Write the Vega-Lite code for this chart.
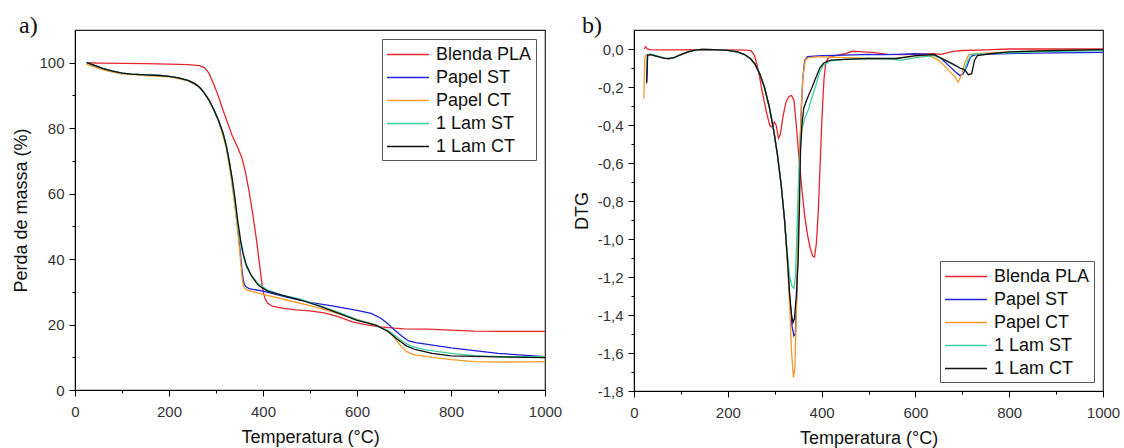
{
  "$schema": "https://vega.github.io/schema/vega-lite/v6.json",
  "padding": {"left": 12, "top": 13, "right": 0, "bottom": 0},
  "config": {
    "font": "Liberation Sans",
    "view": {"stroke": "#222", "strokeWidth": 1.2},
    "axis": {"domainColor": "#000", "tickColor": "#000", "labelColor": "#333", "titleColor": "#111", "labelFontSize": 15, "titleFontSize": 18, "titleFontWeight": "normal", "grid": false, "labelFont": "Liberation Sans", "titleFont": "Liberation Sans", "labelFlush": false, "labelOverlap": false, "labelBound": false},
    "title": {"font": "Liberation Serif", "fontSize": 24, "fontWeight": "normal", "anchor": "start", "frame": "group", "color": "#111"},
    "legend": {"title": null, "symbolType": "M-1,0H3", "symbolSize": 441, "symbolStrokeWidth": 1.5, "labelFontSize": 18, "labelFont": "Liberation Sans", "labelColor": "#111", "strokeColor": "#555", "fillColor": "white", "padding": 4, "rowPadding": 2, "labelOffset": 27, "offset": 9},
    "concat": {"spacing": 9}
  },
  "datasets": {
    "tga": [
      {"s":"Blenda PLA","x":25,"y":100},{"s":"Blenda PLA","x":50,"y":99.9},{"s":"Blenda PLA","x":100,"y":99.8},{"s":"Blenda PLA","x":150,"y":99.7},{"s":"Blenda PLA","x":200,"y":99.6},{"s":"Blenda PLA","x":240,"y":99.4},{"s":"Blenda PLA","x":265,"y":99.1},{"s":"Blenda PLA","x":275,"y":98.5},{"s":"Blenda PLA","x":285,"y":96.8},{"s":"Blenda PLA","x":295,"y":93.5},{"s":"Blenda PLA","x":305,"y":89.8},{"s":"Blenda PLA","x":315,"y":85.5},{"s":"Blenda PLA","x":325,"y":81.5},{"s":"Blenda PLA","x":335,"y":77.5},{"s":"Blenda PLA","x":345,"y":74.5},{"s":"Blenda PLA","x":355,"y":71},{"s":"Blenda PLA","x":362,"y":67},{"s":"Blenda PLA","x":370,"y":61},{"s":"Blenda PLA","x":378,"y":54},{"s":"Blenda PLA","x":386,"y":46},{"s":"Blenda PLA","x":393,"y":38},{"s":"Blenda PLA","x":399,"y":31},{"s":"Blenda PLA","x":404,"y":28},{"s":"Blenda PLA","x":410,"y":26.5},{"s":"Blenda PLA","x":420,"y":25.6},{"s":"Blenda PLA","x":440,"y":25},{"s":"Blenda PLA","x":470,"y":24.5},{"s":"Blenda PLA","x":500,"y":24.2},{"s":"Blenda PLA","x":530,"y":23.6},{"s":"Blenda PLA","x":560,"y":22.4},{"s":"Blenda PLA","x":590,"y":20.8},{"s":"Blenda PLA","x":620,"y":19.9},{"s":"Blenda PLA","x":650,"y":19.3},{"s":"Blenda PLA","x":680,"y":18.9},{"s":"Blenda PLA","x":700,"y":18.7},{"s":"Blenda PLA","x":750,"y":18.6},{"s":"Blenda PLA","x":800,"y":18.3},{"s":"Blenda PLA","x":850,"y":18},{"s":"Blenda PLA","x":900,"y":17.9},{"s":"Blenda PLA","x":1000,"y":17.9},

      {"s":"Papel ST","x":25,"y":100},{"s":"Papel ST","x":40,"y":99.3},{"s":"Papel ST","x":60,"y":98.2},{"s":"Papel ST","x":80,"y":97.4},{"s":"Papel ST","x":100,"y":96.8},{"s":"Papel ST","x":120,"y":96.5},{"s":"Papel ST","x":150,"y":96.3},{"s":"Papel ST","x":180,"y":96.1},{"s":"Papel ST","x":200,"y":95.8},{"s":"Papel ST","x":220,"y":95.4},{"s":"Papel ST","x":240,"y":94.6},{"s":"Papel ST","x":255,"y":93.6},{"s":"Papel ST","x":265,"y":92.5},{"s":"Papel ST","x":275,"y":90.8},{"s":"Papel ST","x":285,"y":88.6},{"s":"Papel ST","x":295,"y":85.8},{"s":"Papel ST","x":305,"y":82.5},{"s":"Papel ST","x":315,"y":78.5},{"s":"Papel ST","x":322,"y":74.5},{"s":"Papel ST","x":328,"y":70},{"s":"Papel ST","x":334,"y":64},{"s":"Papel ST","x":340,"y":57.5},{"s":"Papel ST","x":346,"y":50},{"s":"Papel ST","x":351,"y":43},{"s":"Papel ST","x":355,"y":37},{"s":"Papel ST","x":358,"y":33.5},{"s":"Papel ST","x":362,"y":31.8},{"s":"Papel ST","x":370,"y":31},{"s":"Papel ST","x":400,"y":30.2},{"s":"Papel ST","x":450,"y":28.4},{"s":"Papel ST","x":500,"y":26.8},{"s":"Papel ST","x":550,"y":25.6},{"s":"Papel ST","x":600,"y":24.3},{"s":"Papel ST","x":630,"y":23.4},{"s":"Papel ST","x":650,"y":22},{"s":"Papel ST","x":665,"y":20.3},{"s":"Papel ST","x":680,"y":18.3},{"s":"Papel ST","x":695,"y":16.5},{"s":"Papel ST","x":710,"y":15},{"s":"Papel ST","x":725,"y":14.5},{"s":"Papel ST","x":800,"y":12.9},{"s":"Papel ST","x":900,"y":11.2},{"s":"Papel ST","x":1000,"y":10.2},

      {"s":"Papel CT","x":25,"y":99.5},{"s":"Papel CT","x":40,"y":98.8},{"s":"Papel CT","x":60,"y":97.8},{"s":"Papel CT","x":80,"y":97.1},{"s":"Papel CT","x":100,"y":96.6},{"s":"Papel CT","x":150,"y":96.1},{"s":"Papel CT","x":200,"y":95.7},{"s":"Papel CT","x":240,"y":94.5},{"s":"Papel CT","x":265,"y":92.5},{"s":"Papel CT","x":285,"y":88.8},{"s":"Papel CT","x":305,"y":82.5},{"s":"Papel CT","x":322,"y":74},{"s":"Papel CT","x":334,"y":63},{"s":"Papel CT","x":342,"y":54},{"s":"Papel CT","x":348,"y":46},{"s":"Papel CT","x":352,"y":40},{"s":"Papel CT","x":355,"y":35},{"s":"Papel CT","x":358,"y":31.8},{"s":"Papel CT","x":365,"y":30.6},{"s":"Papel CT","x":400,"y":29.2},{"s":"Papel CT","x":450,"y":27.5},{"s":"Papel CT","x":500,"y":25.8},{"s":"Papel CT","x":550,"y":23.8},{"s":"Papel CT","x":600,"y":21.6},{"s":"Papel CT","x":640,"y":19.8},{"s":"Papel CT","x":660,"y":18.5},{"s":"Papel CT","x":675,"y":16.8},{"s":"Papel CT","x":690,"y":14},{"s":"Papel CT","x":705,"y":11.8},{"s":"Papel CT","x":720,"y":10.8},{"s":"Papel CT","x":760,"y":10},{"s":"Papel CT","x":800,"y":9.3},{"s":"Papel CT","x":850,"y":8.7},{"s":"Papel CT","x":900,"y":8.5},{"s":"Papel CT","x":1000,"y":8.7},

      {"s":"1 Lam ST","x":25,"y":100},{"s":"1 Lam ST","x":40,"y":99.3},{"s":"1 Lam ST","x":60,"y":98.2},{"s":"1 Lam ST","x":80,"y":97.4},{"s":"1 Lam ST","x":100,"y":96.8},{"s":"1 Lam ST","x":120,"y":96.5},{"s":"1 Lam ST","x":150,"y":96.3},{"s":"1 Lam ST","x":180,"y":96.1},{"s":"1 Lam ST","x":200,"y":95.8},{"s":"1 Lam ST","x":220,"y":95.4},{"s":"1 Lam ST","x":240,"y":94.6},{"s":"1 Lam ST","x":255,"y":93.6},{"s":"1 Lam ST","x":265,"y":92.5},{"s":"1 Lam ST","x":275,"y":90.8},{"s":"1 Lam ST","x":285,"y":88.6},{"s":"1 Lam ST","x":295,"y":85.8},{"s":"1 Lam ST","x":305,"y":82.5},{"s":"1 Lam ST","x":315,"y":78.5},{"s":"1 Lam ST","x":322,"y":74.5},{"s":"1 Lam ST","x":328,"y":70},{"s":"1 Lam ST","x":334,"y":64.5},{"s":"1 Lam ST","x":340,"y":58},{"s":"1 Lam ST","x":346,"y":51},{"s":"1 Lam ST","x":352,"y":45},{"s":"1 Lam ST","x":358,"y":41},{"s":"1 Lam ST","x":365,"y":37.5},{"s":"1 Lam ST","x":375,"y":35},{"s":"1 Lam ST","x":390,"y":32.5},{"s":"1 Lam ST","x":410,"y":30.5},{"s":"1 Lam ST","x":440,"y":29},{"s":"1 Lam ST","x":480,"y":27.8},{"s":"1 Lam ST","x":520,"y":25.8},{"s":"1 Lam ST","x":560,"y":23.8},{"s":"1 Lam ST","x":600,"y":21.5},{"s":"1 Lam ST","x":640,"y":19.8},{"s":"1 Lam ST","x":665,"y":18.2},{"s":"1 Lam ST","x":685,"y":16.2},{"s":"1 Lam ST","x":700,"y":14.6},{"s":"1 Lam ST","x":715,"y":13.4},{"s":"1 Lam ST","x":740,"y":12.4},{"s":"1 Lam ST","x":800,"y":11.2},{"s":"1 Lam ST","x":850,"y":10.5},{"s":"1 Lam ST","x":900,"y":10.2},{"s":"1 Lam ST","x":1000,"y":10.2},

      {"s":"1 Lam CT","x":25,"y":100},{"s":"1 Lam CT","x":40,"y":99.3},{"s":"1 Lam CT","x":60,"y":98.2},{"s":"1 Lam CT","x":80,"y":97.4},{"s":"1 Lam CT","x":100,"y":96.8},{"s":"1 Lam CT","x":120,"y":96.5},{"s":"1 Lam CT","x":150,"y":96.3},{"s":"1 Lam CT","x":180,"y":96.1},{"s":"1 Lam CT","x":200,"y":95.8},{"s":"1 Lam CT","x":220,"y":95.4},{"s":"1 Lam CT","x":240,"y":94.6},{"s":"1 Lam CT","x":255,"y":93.6},{"s":"1 Lam CT","x":265,"y":92.5},{"s":"1 Lam CT","x":275,"y":90.8},{"s":"1 Lam CT","x":285,"y":88.6},{"s":"1 Lam CT","x":295,"y":85.8},{"s":"1 Lam CT","x":305,"y":82.5},{"s":"1 Lam CT","x":315,"y":78.5},{"s":"1 Lam CT","x":322,"y":74.5},{"s":"1 Lam CT","x":328,"y":70},{"s":"1 Lam CT","x":334,"y":65},{"s":"1 Lam CT","x":340,"y":59},{"s":"1 Lam CT","x":346,"y":52},{"s":"1 Lam CT","x":352,"y":46},{"s":"1 Lam CT","x":358,"y":41.5},{"s":"1 Lam CT","x":365,"y":38},{"s":"1 Lam CT","x":375,"y":35},{"s":"1 Lam CT","x":390,"y":32},{"s":"1 Lam CT","x":410,"y":30.2},{"s":"1 Lam CT","x":440,"y":29},{"s":"1 Lam CT","x":480,"y":27.5},{"s":"1 Lam CT","x":520,"y":25.6},{"s":"1 Lam CT","x":560,"y":23.5},{"s":"1 Lam CT","x":600,"y":21.3},{"s":"1 Lam CT","x":640,"y":19.8},{"s":"1 Lam CT","x":665,"y":18},{"s":"1 Lam CT","x":685,"y":15.6},{"s":"1 Lam CT","x":705,"y":13.5},{"s":"1 Lam CT","x":725,"y":12.3},{"s":"1 Lam CT","x":760,"y":11.2},{"s":"1 Lam CT","x":800,"y":10.4},{"s":"1 Lam CT","x":900,"y":10.1},{"s":"1 Lam CT","x":1000,"y":9.9}
    ],
    "dtg": [
      {"s":"Blenda PLA","x":22,"y":0},{"s":"Blenda PLA","x":25,"y":0.012},{"s":"Blenda PLA","x":28,"y":0},{"s":"Blenda PLA","x":35,"y":-0.003},{"s":"Blenda PLA","x":60,"y":-0.005},{"s":"Blenda PLA","x":100,"y":-0.005},{"s":"Blenda PLA","x":150,"y":-0.004},{"s":"Blenda PLA","x":200,"y":-0.005},{"s":"Blenda PLA","x":240,"y":-0.006},{"s":"Blenda PLA","x":250,"y":-0.01},{"s":"Blenda PLA","x":257,"y":-0.035},{"s":"Blenda PLA","x":263,"y":-0.09},{"s":"Blenda PLA","x":268,"y":-0.15},{"s":"Blenda PLA","x":273,"y":-0.22},{"s":"Blenda PLA","x":278,"y":-0.28},{"s":"Blenda PLA","x":284,"y":-0.35},{"s":"Blenda PLA","x":290,"y":-0.405},{"s":"Blenda PLA","x":294,"y":-0.41},{"s":"Blenda PLA","x":299,"y":-0.385},{"s":"Blenda PLA","x":303,"y":-0.4},{"s":"Blenda PLA","x":308,"y":-0.47},{"s":"Blenda PLA","x":312,"y":-0.45},{"s":"Blenda PLA","x":318,"y":-0.35},{"s":"Blenda PLA","x":324,"y":-0.28},{"s":"Blenda PLA","x":330,"y":-0.25},{"s":"Blenda PLA","x":336,"y":-0.245},{"s":"Blenda PLA","x":341,"y":-0.27},{"s":"Blenda PLA","x":346,"y":-0.4},{"s":"Blenda PLA","x":352,"y":-0.58},{"s":"Blenda PLA","x":358,"y":-0.74},{"s":"Blenda PLA","x":364,"y":-0.88},{"s":"Blenda PLA","x":370,"y":-0.98},{"s":"Blenda PLA","x":376,"y":-1.05},{"s":"Blenda PLA","x":381,"y":-1.09},{"s":"Blenda PLA","x":385,"y":-1.095},{"s":"Blenda PLA","x":389,"y":-1.02},{"s":"Blenda PLA","x":393,"y":-0.85},{"s":"Blenda PLA","x":397,"y":-0.6},{"s":"Blenda PLA","x":401,"y":-0.35},{"s":"Blenda PLA","x":405,"y":-0.16},{"s":"Blenda PLA","x":409,"y":-0.07},{"s":"Blenda PLA","x":415,"y":-0.045},{"s":"Blenda PLA","x":430,"y":-0.035},{"s":"Blenda PLA","x":450,"y":-0.025},{"s":"Blenda PLA","x":465,"y":-0.012},{"s":"Blenda PLA","x":490,"y":-0.015},{"s":"Blenda PLA","x":510,"y":-0.018},{"s":"Blenda PLA","x":540,"y":-0.028},{"s":"Blenda PLA","x":570,"y":-0.03},{"s":"Blenda PLA","x":600,"y":-0.028},{"s":"Blenda PLA","x":640,"y":-0.025},{"s":"Blenda PLA","x":655,"y":-0.028},{"s":"Blenda PLA","x":665,"y":-0.022},{"s":"Blenda PLA","x":680,"y":-0.012},{"s":"Blenda PLA","x":700,"y":-0.008},{"s":"Blenda PLA","x":750,"y":-0.005},{"s":"Blenda PLA","x":800,"y":0},{"s":"Blenda PLA","x":900,"y":0},{"s":"Blenda PLA","x":1000,"y":0},

      {"s":"Papel ST","x":27,"y":-0.17},{"s":"Papel ST","x":29,"y":-0.03},{"s":"Papel ST","x":35,"y":-0.028},{"s":"Papel ST","x":45,"y":-0.035},{"s":"Papel ST","x":55,"y":-0.042},{"s":"Papel ST","x":65,"y":-0.048},{"s":"Papel ST","x":75,"y":-0.05},{"s":"Papel ST","x":85,"y":-0.045},{"s":"Papel ST","x":100,"y":-0.03},{"s":"Papel ST","x":115,"y":-0.015},{"s":"Papel ST","x":130,"y":-0.006},{"s":"Papel ST","x":145,"y":-0.002},{"s":"Papel ST","x":170,"y":-0.003},{"s":"Papel ST","x":200,"y":-0.007},{"s":"Papel ST","x":220,"y":-0.015},{"s":"Papel ST","x":235,"y":-0.028},{"s":"Papel ST","x":248,"y":-0.05},{"s":"Papel ST","x":258,"y":-0.08},{"s":"Papel ST","x":268,"y":-0.13},{"s":"Papel ST","x":278,"y":-0.2},{"s":"Papel ST","x":288,"y":-0.3},{"s":"Papel ST","x":298,"y":-0.43},{"s":"Papel ST","x":306,"y":-0.56},{"s":"Papel ST","x":314,"y":-0.72},{"s":"Papel ST","x":321,"y":-0.9},{"s":"Papel ST","x":327,"y":-1.1},{"s":"Papel ST","x":332,"y":-1.3},{"s":"Papel ST","x":337,"y":-1.46},{"s":"Papel ST","x":341,"y":-1.51},{"s":"Papel ST","x":344,"y":-1.5},{"s":"Papel ST","x":347,"y":-1.3},{"s":"Papel ST","x":350,"y":-1.0},{"s":"Papel ST","x":353,"y":-0.6},{"s":"Papel ST","x":357,"y":-0.3},{"s":"Papel ST","x":360,"y":-0.15},{"s":"Papel ST","x":364,"y":-0.06},{"s":"Papel ST","x":370,"y":-0.04},{"s":"Papel ST","x":400,"y":-0.035},{"s":"Papel ST","x":450,"y":-0.032},{"s":"Papel ST","x":500,"y":-0.028},{"s":"Papel ST","x":530,"y":-0.03},{"s":"Papel ST","x":560,"y":-0.028},{"s":"Papel ST","x":600,"y":-0.025},{"s":"Papel ST","x":640,"y":-0.03},{"s":"Papel ST","x":655,"y":-0.05},{"s":"Papel ST","x":670,"y":-0.085},{"s":"Papel ST","x":685,"y":-0.12},{"s":"Papel ST","x":695,"y":-0.14},{"s":"Papel ST","x":702,"y":-0.13},{"s":"Papel ST","x":710,"y":-0.09},{"s":"Papel ST","x":718,"y":-0.04},{"s":"Papel ST","x":730,"y":-0.028},{"s":"Papel ST","x":800,"y":-0.024},{"s":"Papel ST","x":900,"y":-0.02},{"s":"Papel ST","x":1000,"y":-0.018},

      {"s":"Papel CT","x":21,"y":-0.26},{"s":"Papel CT","x":23,"y":-0.05},{"s":"Papel CT","x":26,"y":-0.03},{"s":"Papel CT","x":35,"y":-0.03},{"s":"Papel CT","x":45,"y":-0.036},{"s":"Papel CT","x":55,"y":-0.043},{"s":"Papel CT","x":65,"y":-0.049},{"s":"Papel CT","x":75,"y":-0.05},{"s":"Papel CT","x":85,"y":-0.045},{"s":"Papel CT","x":100,"y":-0.03},{"s":"Papel CT","x":115,"y":-0.015},{"s":"Papel CT","x":130,"y":-0.006},{"s":"Papel CT","x":145,"y":-0.002},{"s":"Papel CT","x":170,"y":-0.003},{"s":"Papel CT","x":200,"y":-0.007},{"s":"Papel CT","x":220,"y":-0.015},{"s":"Papel CT","x":235,"y":-0.028},{"s":"Papel CT","x":248,"y":-0.05},{"s":"Papel CT","x":258,"y":-0.08},{"s":"Papel CT","x":268,"y":-0.13},{"s":"Papel CT","x":278,"y":-0.2},{"s":"Papel CT","x":288,"y":-0.3},{"s":"Papel CT","x":298,"y":-0.43},{"s":"Papel CT","x":306,"y":-0.56},{"s":"Papel CT","x":314,"y":-0.72},{"s":"Papel CT","x":321,"y":-0.9},{"s":"Papel CT","x":327,"y":-1.12},{"s":"Papel CT","x":332,"y":-1.35},{"s":"Papel CT","x":336,"y":-1.6},{"s":"Papel CT","x":340,"y":-1.73},{"s":"Papel CT","x":343,"y":-1.68},{"s":"Papel CT","x":347,"y":-1.3},{"s":"Papel CT","x":350,"y":-0.9},{"s":"Papel CT","x":353,"y":-0.55},{"s":"Papel CT","x":356,"y":-0.35},{"s":"Papel CT","x":360,"y":-0.15},{"s":"Papel CT","x":365,"y":-0.06},{"s":"Papel CT","x":372,"y":-0.045},{"s":"Papel CT","x":400,"y":-0.04},{"s":"Papel CT","x":450,"y":-0.045},{"s":"Papel CT","x":500,"y":-0.05},{"s":"Papel CT","x":550,"y":-0.052},{"s":"Papel CT","x":600,"y":-0.038},{"s":"Papel CT","x":630,"y":-0.035},{"s":"Papel CT","x":650,"y":-0.06},{"s":"Papel CT","x":670,"y":-0.11},{"s":"Papel CT","x":685,"y":-0.15},{"s":"Papel CT","x":691,"y":-0.175},{"s":"Papel CT","x":698,"y":-0.14},{"s":"Papel CT","x":706,"y":-0.07},{"s":"Papel CT","x":714,"y":-0.03},{"s":"Papel CT","x":730,"y":-0.025},{"s":"Papel CT","x":800,"y":-0.015},{"s":"Papel CT","x":900,"y":-0.008},{"s":"Papel CT","x":1000,"y":-0.005},

      {"s":"1 Lam ST","x":27,"y":-0.1},{"s":"1 Lam ST","x":29,"y":-0.03},{"s":"1 Lam ST","x":35,"y":-0.026},{"s":"1 Lam ST","x":45,"y":-0.034},{"s":"1 Lam ST","x":55,"y":-0.042},{"s":"1 Lam ST","x":65,"y":-0.048},{"s":"1 Lam ST","x":75,"y":-0.05},{"s":"1 Lam ST","x":85,"y":-0.045},{"s":"1 Lam ST","x":100,"y":-0.03},{"s":"1 Lam ST","x":115,"y":-0.015},{"s":"1 Lam ST","x":130,"y":-0.006},{"s":"1 Lam ST","x":145,"y":-0.002},{"s":"1 Lam ST","x":170,"y":-0.003},{"s":"1 Lam ST","x":200,"y":-0.007},{"s":"1 Lam ST","x":220,"y":-0.015},{"s":"1 Lam ST","x":235,"y":-0.028},{"s":"1 Lam ST","x":248,"y":-0.05},{"s":"1 Lam ST","x":258,"y":-0.08},{"s":"1 Lam ST","x":268,"y":-0.13},{"s":"1 Lam ST","x":278,"y":-0.2},{"s":"1 Lam ST","x":288,"y":-0.3},{"s":"1 Lam ST","x":298,"y":-0.43},{"s":"1 Lam ST","x":306,"y":-0.56},{"s":"1 Lam ST","x":314,"y":-0.72},{"s":"1 Lam ST","x":321,"y":-0.9},{"s":"1 Lam ST","x":327,"y":-1.08},{"s":"1 Lam ST","x":332,"y":-1.2},{"s":"1 Lam ST","x":337,"y":-1.25},{"s":"1 Lam ST","x":341,"y":-1.26},{"s":"1 Lam ST","x":344,"y":-1.2},{"s":"1 Lam ST","x":347,"y":-1.0},{"s":"1 Lam ST","x":350,"y":-0.75},{"s":"1 Lam ST","x":354,"y":-0.55},{"s":"1 Lam ST","x":358,"y":-0.42},{"s":"1 Lam ST","x":365,"y":-0.36},{"s":"1 Lam ST","x":373,"y":-0.31},{"s":"1 Lam ST","x":380,"y":-0.25},{"s":"1 Lam ST","x":388,"y":-0.19},{"s":"1 Lam ST","x":396,"y":-0.12},{"s":"1 Lam ST","x":404,"y":-0.085},{"s":"1 Lam ST","x":419,"y":-0.063},{"s":"1 Lam ST","x":450,"y":-0.055},{"s":"1 Lam ST","x":500,"y":-0.05},{"s":"1 Lam ST","x":540,"y":-0.052},{"s":"1 Lam ST","x":570,"y":-0.06},{"s":"1 Lam ST","x":600,"y":-0.045},{"s":"1 Lam ST","x":640,"y":-0.035},{"s":"1 Lam ST","x":660,"y":-0.055},{"s":"1 Lam ST","x":680,"y":-0.08},{"s":"1 Lam ST","x":695,"y":-0.1},{"s":"1 Lam ST","x":705,"y":-0.11},{"s":"1 Lam ST","x":712,"y":-0.06},{"s":"1 Lam ST","x":720,"y":-0.028},{"s":"1 Lam ST","x":800,"y":-0.02},{"s":"1 Lam ST","x":900,"y":-0.012},{"s":"1 Lam ST","x":1000,"y":-0.008},

      {"s":"1 Lam CT","x":27,"y":-0.18},{"s":"1 Lam CT","x":29,"y":-0.032},{"s":"1 Lam CT","x":35,"y":-0.03},{"s":"1 Lam CT","x":45,"y":-0.036},{"s":"1 Lam CT","x":55,"y":-0.043},{"s":"1 Lam CT","x":65,"y":-0.049},{"s":"1 Lam CT","x":75,"y":-0.051},{"s":"1 Lam CT","x":85,"y":-0.046},{"s":"1 Lam CT","x":100,"y":-0.03},{"s":"1 Lam CT","x":115,"y":-0.015},{"s":"1 Lam CT","x":130,"y":-0.006},{"s":"1 Lam CT","x":145,"y":-0.002},{"s":"1 Lam CT","x":170,"y":-0.003},{"s":"1 Lam CT","x":200,"y":-0.007},{"s":"1 Lam CT","x":220,"y":-0.015},{"s":"1 Lam CT","x":235,"y":-0.028},{"s":"1 Lam CT","x":248,"y":-0.05},{"s":"1 Lam CT","x":258,"y":-0.08},{"s":"1 Lam CT","x":268,"y":-0.13},{"s":"1 Lam CT","x":278,"y":-0.2},{"s":"1 Lam CT","x":288,"y":-0.3},{"s":"1 Lam CT","x":298,"y":-0.43},{"s":"1 Lam CT","x":306,"y":-0.56},{"s":"1 Lam CT","x":314,"y":-0.72},{"s":"1 Lam CT","x":321,"y":-0.9},{"s":"1 Lam CT","x":327,"y":-1.1},{"s":"1 Lam CT","x":332,"y":-1.3},{"s":"1 Lam CT","x":336,"y":-1.4},{"s":"1 Lam CT","x":339,"y":-1.44},{"s":"1 Lam CT","x":342,"y":-1.42},{"s":"1 Lam CT","x":346,"y":-1.3},{"s":"1 Lam CT","x":350,"y":-1.12},{"s":"1 Lam CT","x":353,"y":-0.8},{"s":"1 Lam CT","x":355,"y":-0.54},{"s":"1 Lam CT","x":358,"y":-0.4},{"s":"1 Lam CT","x":362,"y":-0.31},{"s":"1 Lam CT","x":368,"y":-0.27},{"s":"1 Lam CT","x":373,"y":-0.24},{"s":"1 Lam CT","x":380,"y":-0.2},{"s":"1 Lam CT","x":388,"y":-0.15},{"s":"1 Lam CT","x":396,"y":-0.1},{"s":"1 Lam CT","x":404,"y":-0.075},{"s":"1 Lam CT","x":419,"y":-0.058},{"s":"1 Lam CT","x":450,"y":-0.055},{"s":"1 Lam CT","x":500,"y":-0.05},{"s":"1 Lam CT","x":560,"y":-0.05},{"s":"1 Lam CT","x":600,"y":-0.035},{"s":"1 Lam CT","x":640,"y":-0.03},{"s":"1 Lam CT","x":660,"y":-0.055},{"s":"1 Lam CT","x":680,"y":-0.08},{"s":"1 Lam CT","x":695,"y":-0.1},{"s":"1 Lam CT","x":705,"y":-0.11},{"s":"1 Lam CT","x":713,"y":-0.135},{"s":"1 Lam CT","x":720,"y":-0.13},{"s":"1 Lam CT","x":726,"y":-0.06},{"s":"1 Lam CT","x":732,"y":-0.035},{"s":"1 Lam CT","x":760,"y":-0.025},{"s":"1 Lam CT","x":800,"y":-0.015},{"s":"1 Lam CT","x":900,"y":-0.008},{"s":"1 Lam CT","x":1000,"y":-0.003}
    ]
  },
  "hconcat": [
    {
      "width": 470,
      "height": 360,
      "title": {"text": "a)", "dx": -56, "baseline": "alphabetic", "offset": -27},
      "data": {"name": "tga"},
      "mark": {"type": "line", "strokeWidth": 1.3, "clip": true},
      "encoding": {
        "x": {"field": "x", "type": "quantitative", "title": "Temperatura (°C)",
              "scale": {"domain": [0, 1000], "nice": false},
              "axis": {"values": [0,100,200,300,400,500,600,700,800,900,1000], "labelExpr": "datum.value % 200 === 0 ? '' + datum.value : ''", "tickSize": {"condition": {"test": "datum.value % 200 === 0", "value": 6}, "value": 3}, "labelPadding": 8, "titlePadding": 9}},
        "y": {"field": "y", "type": "quantitative", "title": "Perda de massa (%)",
              "scale": {"domain": [0, 110], "nice": false},
              "axis": {"values": [0,10,20,30,40,50,60,70,80,90,100], "labelExpr": "datum.value % 20 === 0 ? '' + datum.value : ''", "tickSize": {"condition": {"test": "datum.value % 20 === 0", "value": 6}, "value": 3}, "labelPadding": 5, "titlePadding": 8}},
        "color": {"field": "s", "type": "nominal",
                  "scale": {"domain": ["Blenda PLA", "Papel ST", "Papel CT", "1 Lam ST", "1 Lam CT"], "range": ["#e6262e", "#2020d8", "#f59a2a", "#3ad1a3", "#111111"]},
                  "legend": {"orient": "top-right"}}
      }
    },
    {
      "width": 469,
      "height": 361,
      "title": {"text": "b)", "dx": -52, "baseline": "alphabetic", "offset": -27},
      "data": {"name": "dtg"},
      "mark": {"type": "line", "strokeWidth": 1.3, "clip": true},
      "encoding": {
        "x": {"field": "x", "type": "quantitative", "title": "Temperatura (°C)",
              "scale": {"domain": [0, 1000], "nice": false},
              "axis": {"values": [0,100,200,300,400,500,600,700,800,900,1000], "labelExpr": "datum.value % 200 === 0 ? '' + datum.value : ''", "tickSize": {"condition": {"test": "datum.value % 200 === 0", "value": 6}, "value": 3}, "labelPadding": 8, "titlePadding": 9}},
        "y": {"field": "y", "type": "quantitative", "title": "DTG",
              "scale": {"domain": [-1.8, 0.1], "nice": false, "zero": false},
              "axis": {"values": [-1.8,-1.7,-1.6,-1.5,-1.4,-1.3,-1.2,-1.1,-1.0,-0.9,-0.8,-0.7,-0.6,-0.5,-0.4,-0.3,-0.2,-0.1,0], "labelExpr": "abs(round(datum.value*10)) % 2 === 0 ? replace(replace(format(datum.value, '.1f'), '.', ','), '\u2212', '-') : ''", "tickSize": {"condition": {"test": "abs(round(datum.value*10)) % 2 === 0", "value": 6}, "value": 3}, "labelPadding": 5, "titlePadding": 6}},
        "color": {"field": "s", "type": "nominal",
                  "legend": {"orient": "bottom-right"}}
      }
    }
  ],
  "resolve": {"legend": {"color": "independent"}}
}
